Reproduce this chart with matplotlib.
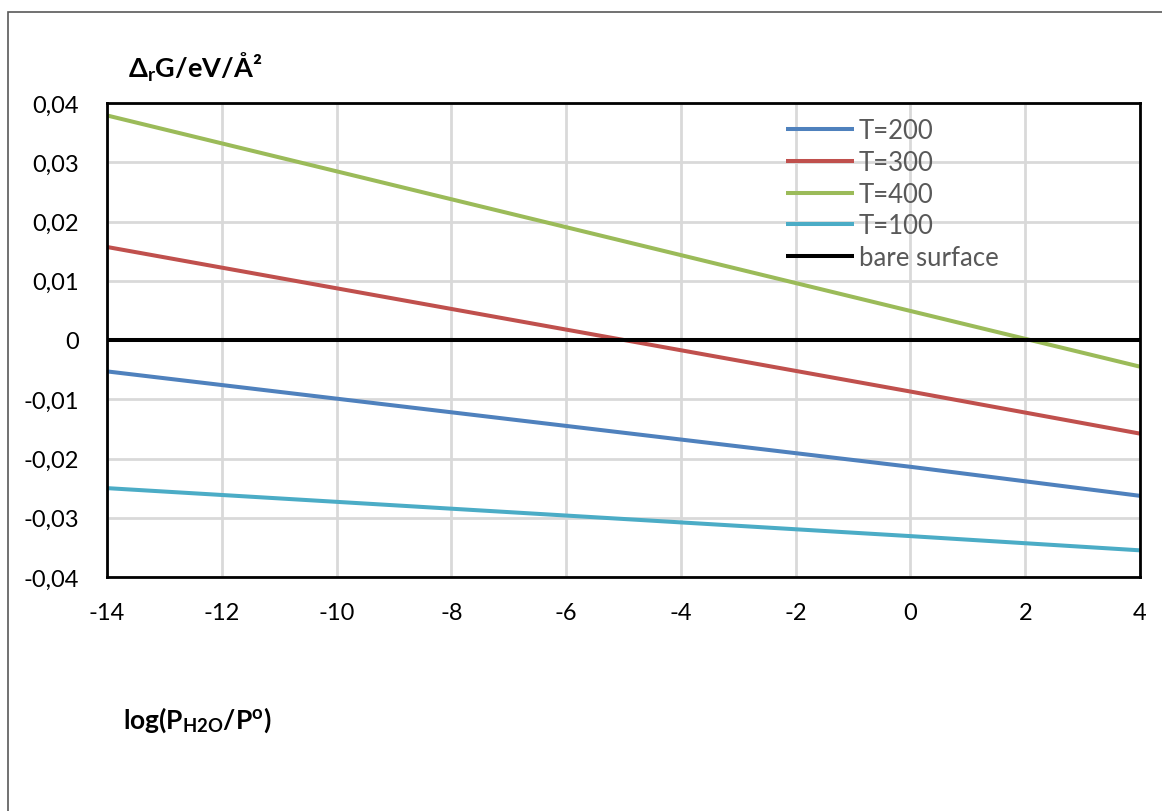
import matplotlib.pyplot as plt
from matplotlib.patches import Rectangle

plt.rcParams['font.family'] = ['Lato', 'DejaVu Sans']
plt.rcParams['mathtext.fontset'] = 'custom'
plt.rcParams['mathtext.rm'] = 'Lato'
plt.rcParams['mathtext.bf'] = 'Lato:bold'
plt.rcParams['mathtext.it'] = 'Lato:italic'
plt.rcParams['axes.unicode_minus'] = False

# данные
log_p = [-14, 0, 4]
t200 = [-0.0053, -0.0214, -0.0263]
t300 = [0.0157, -0.0087, -0.0158]
t400 = [0.0379, 0.0049, -0.0045]
t100 = [-0.0250, -0.0331, -0.0355]
bare = [0, 0, 0]

series = [
    ('T=200', t200, '#4F81BD'),
    ('T=300', t300, '#C0504D'),
    ('T=400', t400, '#9BBB59'),
    ('T=100', t100, '#4BACC6'),
    ('bare surface', bare, '#000000'),
]

fig = plt.figure(figsize=(11.62, 8.12), dpi=100)
ax = fig.add_axes([107 / 1162, 1 - 578 / 812, 1033 / 1162, 474 / 812])

# рамка всей картинки (справа и снизу обрезана)
fig.patches.append(Rectangle((8 / 1162, -0.1), 1.2, 1 - 13 / 812 + 0.1,
                             transform=fig.transFigure, fill=False,
                             edgecolor='#595959', linewidth=1.2))

for name, vals, col in series:
    ax.plot(log_p, vals, color=col, linewidth=2.9, label=name,
            solid_capstyle='butt')

ax.set_xlim(-14, 4)
ax.set_ylim(-0.04, 0.04)
ax.set_xticks(range(-14, 5, 2))
ax.set_yticks([-0.04, -0.03, -0.02, -0.01, 0, 0.01, 0.02, 0.03, 0.04])
ax.set_yticklabels(['-0,04', '-0,03', '-0,02', '-0,01', '0', '0,01', '0,02', '0,03', '0,04'])
ax.grid(True, color='#D9D9D9', linewidth=2)
ax.set_axisbelow(True)
for s in ax.spines.values():
    s.set_linewidth(2)
    s.set_color('black')
ax.tick_params(length=0, labelsize=17)
ax.tick_params(axis='y', pad=20)
ax.tick_params(axis='x', pad=18)

leg = ax.legend(loc='upper left', bbox_to_anchor=(0.657, 0.968), frameon=False,
                fontsize=18.5, handlelength=2.65, handletextpad=0.2,
                labelspacing=0.26, borderaxespad=0, borderpad=0)
for t in leg.get_texts():
    t.set_color('#595959')

fig.text(128 / 1162, 1 - 78 / 812, 'Δ$_\\mathbf{r}$G/eV/Å²', fontsize=19.5,
         fontweight='bold')
fig.text(123 / 1162, 1 - 729 / 812, 'log(P$_\\mathbf{H2O}$/P$^\\mathbf{o}$)',
         fontsize=19, fontweight='bold')

fig.savefig('out.png', dpi=100)
